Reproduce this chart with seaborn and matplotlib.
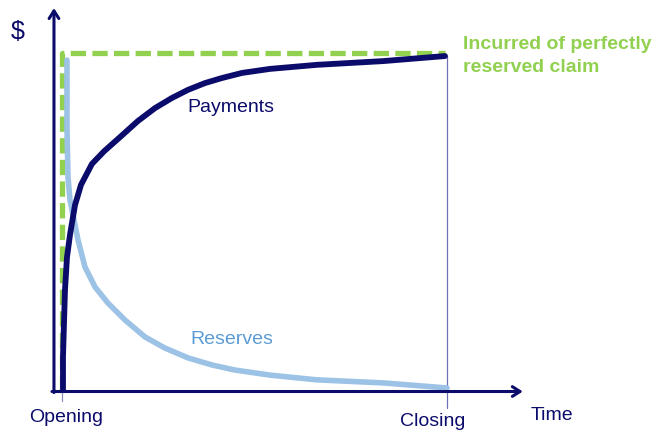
import matplotlib
matplotlib.use("Agg")
import matplotlib.pyplot as plt
import seaborn as sns
import pandas as pd

# Time: 0 = Opening, 100 = Closing ; Value: 0..100 ($, 100 = ultimate incurred)
pay_t = [0.26, 0.26, 0.52, 0.78, 1.30, 2.08, 3.38, 4.94, 7.79, 10.91, 15.06, 19.74, 24.16,
         28.57, 32.73, 37.14, 41.56, 46.75, 54.03, 66.23, 83.38, 99.48]
pay_v = [0.3, 10.1, 20.1, 29.9, 39.6, 46.2, 55.0, 61.0, 67.2, 70.9, 75.1, 79.9, 83.7,
         86.7, 89.1, 91.1, 92.6, 94.1, 95.3, 96.5, 97.6, 99.1]

res_t = [1.30, 1.30, 1.56, 2.08, 2.86, 4.16, 5.97, 8.57, 11.95, 16.36, 21.56, 26.75,
         32.73, 38.96, 44.94, 54.03, 66.23, 83.38, 100.0]
res_v = [97.9, 78.1, 63.3, 56.5, 52.1, 44.7, 36.7, 30.8, 26.0, 21.0, 16.0, 12.7,
         9.8, 7.7, 6.2, 4.7, 3.3, 2.4, 0.9]

inc_t = [0.0, 0.0, 99.5]
inc_v = [0.0, 100.0, 100.0]

x_labels = ["Opening", "Closing"]
x_label_pos = [0.0, 100.0]

NAVY = "#0b0b6b"
LIGHT = "#9cc2e5"
GREEN = "#92d050"
MID = "#5b9bd5"

sns.set_style("white")
plt.rcParams["font.family"] = ["Liberation Sans", "DejaVu Sans"]

fig = plt.figure(figsize=(6.52, 4.34), dpi=100)
ax = fig.add_axes([0, 0, 1, 1])
ax.set_xlim(-16.10, 153.25)
ax.set_ylim(-12.72, 115.68)
ax.axis("off")

df_pay = pd.DataFrame({"t": pay_t, "v": pay_v})
df_res = pd.DataFrame({"t": res_t, "v": res_v})
df_inc = pd.DataFrame({"t": inc_t, "v": inc_v})

# thin reference lines at opening / closing
ax.plot([x_label_pos[0], x_label_pos[0]], [-0.5, -3.0], color="#8a8ab8", lw=0.9, zorder=1)
ax.plot([x_label_pos[1], x_label_pos[1]], [99.0, -5.0], color="#7070b8", lw=0.9, zorder=1)

sns.lineplot(data=df_inc, x="t", y="v", sort=False, estimator=None, ax=ax,
             color=GREEN, lw=3.8, zorder=2)
ax.lines[-1].set_dashes((2.9, 1.2))
sns.lineplot(data=df_res, x="t", y="v", sort=False, estimator=None, ax=ax,
             color=LIGHT, lw=4.0, zorder=3)
sns.lineplot(data=df_pay, x="t", y="v", sort=False, estimator=None, ax=ax,
             color=NAVY, lw=4.2, zorder=4)
for ln in ax.lines[-2:]:
    ln.set_solid_joinstyle("round")

# axes with arrows
arrow = dict(arrowstyle="->,head_length=0.55,head_width=0.35", color=NAVY, lw=2.2,
             shrinkA=0, shrinkB=0)
ax.annotate("", xy=(-2.08, 113.3), xytext=(-2.08, -0.45), arrowprops=arrow, zorder=5)
ax.annotate("", xy=(119.7, -0.15), xytext=(-2.6, -0.15), arrowprops=arrow, zorder=5)

ax.text(-11.4, 106.2, "$", fontsize=18, color=NAVY, ha="center", va="center")
ax.text(1.2, -7.8, x_labels[0], fontsize=14, color=NAVY, ha="center", va="center")
ax.text(96.4, -9.0, x_labels[1], fontsize=14, color=NAVY, ha="center", va="center")
ax.text(127.3, -7.3, "Time", fontsize=14, color=NAVY, ha="center", va="center")
ax.text(43.9, 84.0, "Payments", fontsize=14, color=NAVY, ha="center", va="center")
ax.text(44.2, 15.2, "Reserves", fontsize=14, color=MID, ha="center", va="center")
ax.text(104.2, 99.0, "Incurred of perfectly\nreserved claim", fontsize=14, color=GREEN,
        fontweight="bold", ha="left", va="center", linespacing=1.45)

fig.savefig("out.png", dpi=100)
